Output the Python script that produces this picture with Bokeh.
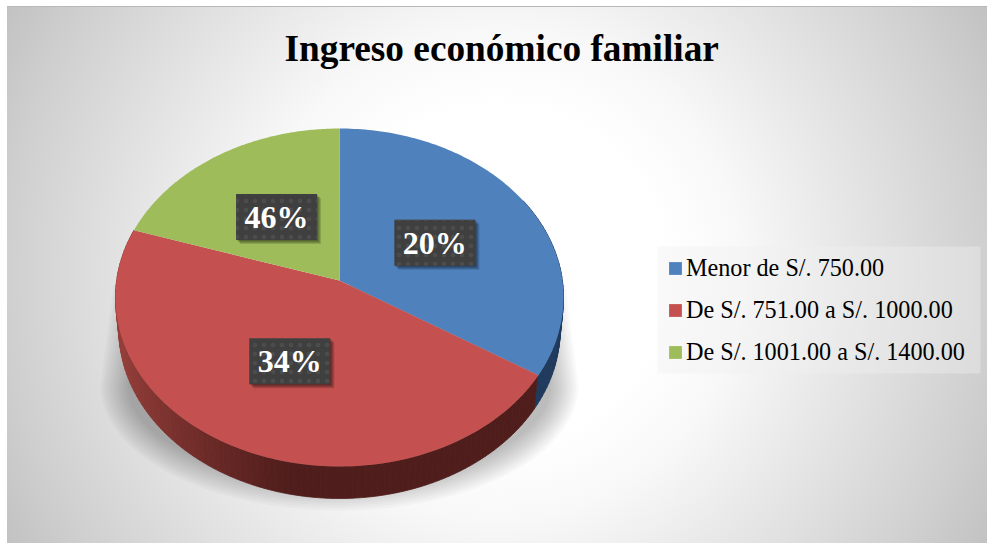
import numpy as np
from bokeh.plotting import figure
from bokeh.models import Range1d, Legend, LegendItem
from bokeh.core.properties import value
from bokeh.embed import file_html
from bokeh.resources import INLINE

TITLE = "Ingreso económico familiar"
categories = ["Menor de S/. 750.00", "De S/. 751.00 a S/. 1000.00", "De S/. 1001.00 a S/. 1400.00"]
shares = [34, 46, 20]              # drawn slice sizes
shown_labels = ["20%", "34%", "46%"]  # printed labels, as in the reference
top_colors = ["#4f81bd", "#c4514f", "#9ebd5a"]

# layout
CX, APEX_Y, K, AX, BY = 339.0, 280.0, -0.1006, 222.9, 139.1
DEPTH, BASE_SCALE = 32.0, 0.985
FRAME_TOP = 73

def project(deg, frac=1.0):
    a = np.radians(np.asarray(deg, dtype=float))
    X, Y = np.sin(a) * frac, -np.cos(a) * frac
    w = 1 + K * Y
    return CX + AX * X / w, (BY * Y + APEX_Y) / w

def mix(c1, c2, t):
    c = [int(round(a + (b - a) * t)) for a, b in zip(c1, c2)]
    return "#%02x%02x%02x" % tuple(c)

p = figure(width=980, height=536, frame_width=980, frame_height=543 - FRAME_TOP,
           x_range=Range1d(7, 987), y_range=Range1d(543, FRAME_TOP),
           output_backend="svg", toolbar_location=None, min_border=0, min_border_top=FRAME_TOP - 7,
           title=TITLE)
p.axis.visible = False
p.grid.visible = False
p.outline_line_color = None
p.background_fill_alpha = 0
p.border_fill_alpha = 0
p.styles = {
    "margin-left": "7px", "margin-top": "7px",
    "background": "radial-gradient(circle farthest-corner at 50% 50%, #ffffff 0%, #ffffff 30%, #f8f8f8 44%, #dfdfdf 71%, #cfcfcf 88%, #c2c2c2 100%)",
    "box-shadow": "0 -1px 0 #b8b8b8",
}
p.title.align = "left"
p.title.offset = 277
p.title.text_font = "Liberation Serif"
p.title.text_font_size = "37.3px"
p.title.text_font_style = "bold"
p.title.text_color = "#000000"

# soft shadow under the pie
t = np.radians(np.linspace(0, 180, 90))
for i in range(12):
    inset = i * 2.5
    ex = 339 + (239 - inset) * np.cos(t)
    ey = 385 + (125 - inset) * np.sin(t)
    sx = np.concatenate([[113 + inset, 565 - inset], ex])
    sy = np.concatenate([[285.0, 285.0], ey])
    p.patch(sx, sy, fill_color="#000000", fill_alpha=0.024, line_color=None)

# side wall
edges = np.cumsum([0] + shares) / sum(shares) * 360.0
blue_end, red_end = edges[1], edges[2]
angles = np.arange(60.0, red_end + 0.01, 1.5)
for a0, a1 in zip(angles[:-1], angles[1:]):
    xs0, ys0 = project([a0, a1])
    xb = CX + (xs0 - CX) * BASE_SCALE
    yb = ys0 + DEPTH
    xm = float(xs0.mean())
    if a1 <= blue_end + 1.5:
        col = "#1f3a5c"
    else:
        t2 = np.clip((xm - 118) / 170.0, 0, 1) ** 0.8
        col = mix((0x96, 0x3e, 0x3a), (0x4f, 0x1d, 0x1b), t2)
    qx = [xs0[0], xs0[1], xb[1], xb[0]]
    qy = [ys0[0], ys0[1], yb[1], yb[0]]
    p.patch(qx, qy, fill_color=col, line_color=col, line_width=0.8)

# top faces
items = []
for name, c, a0, a1 in zip(categories, top_colors, edges[:-1], edges[1:]):
    arc = np.linspace(a0, a1, 120)
    ax_, ay_ = project(arc)
    r = p.patch(np.r_[CX, ax_], np.r_[APEX_Y, ay_], fill_color=c, line_color=None)
    items.append(LegendItem(label=name, renderers=[r]))

# data labels
mids = (edges[:-1] + edges[1:]) / 2
lx, ly = project(mids, 0.5)
ly = ly + 1.5
for i in range(4):
    p.rect(lx + 1 + i, ly + 1 + i, width=81, height=46, width_units="screen", height_units="screen",
           fill_color="#000000", fill_alpha=0.14, line_color=None)
p.rect(lx, ly, width=81, height=46, width_units="screen", height_units="screen",
       fill_color="#3f3f3f", line_color=None,
       hatch_pattern="dot", hatch_color="#4c4c4c", hatch_scale=9, hatch_weight=1)
p.text(lx, ly, text=shown_labels, text_align="center", text_baseline="middle",
       text_color="#ffffff", text_font=value("Liberation Serif"), text_font_style="bold",
       text_font_size="32px")

# legend panel and legend
p.quad(left=[657], right=[980], top=[246], bottom=[373], fill_color="#f0f0f0", fill_alpha=0.4, line_color=None)
legend = Legend(items=items, location=(660, 177), orientation="vertical",
                background_fill_alpha=0, border_line_alpha=0, border_line_color=None,
                margin=0, padding=9, spacing=14,
                glyph_width=16, glyph_height=16, label_standoff=3,
                label_text_font="Liberation Serif", label_text_font_size="24.2px",
                label_text_color="#000000", label_height=22)
p.add_layout(legend)

open("out.html", "w").write(file_html(p, INLINE))
